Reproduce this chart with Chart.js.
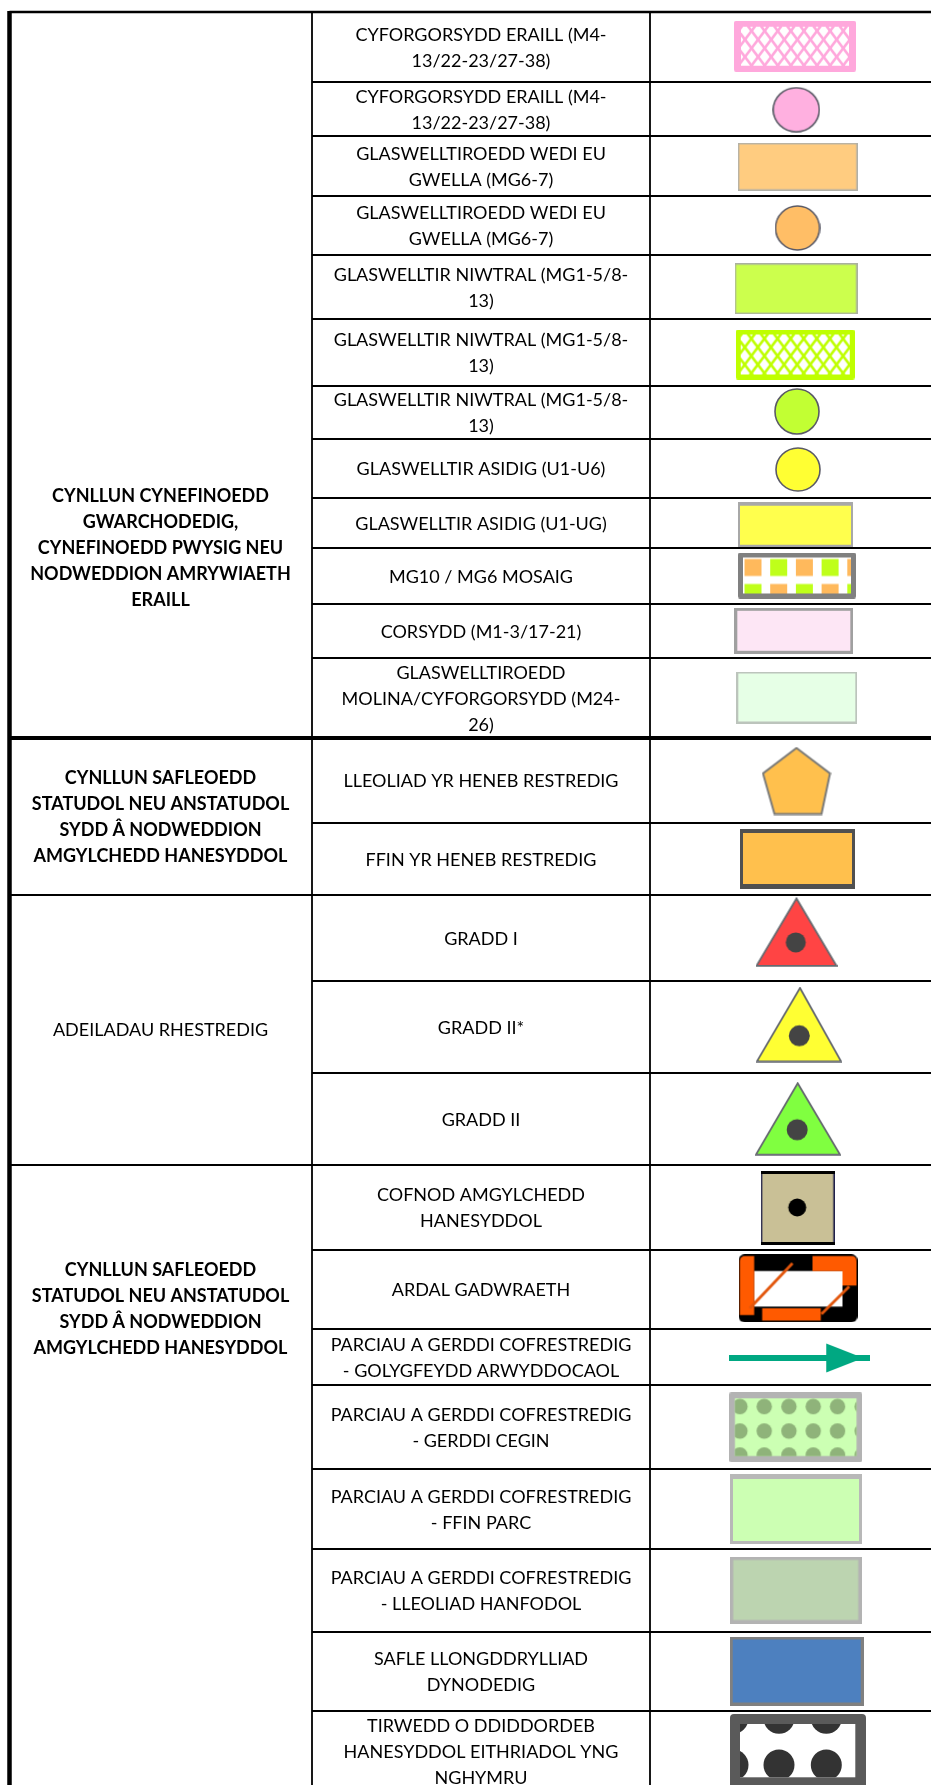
<!DOCTYPE html>
<html>
<head>
<meta charset="utf-8">
<style>html,body{margin:0;padding:0;background:#fff}canvas{display:block}</style>
<script src="https://cdn.jsdelivr.net/npm/chart.js@4"></script>
</head>
<body>
<canvas id="c" width="931" height="1785"></canvas>
<script>
// ---- table content ----
const groupLabels = [
  ["CYNLLUN CYNEFINOEDD","GWARCHODEDIG,","CYNEFINOEDD PWYSIG NEU","NODWEDDION AMRYWIAETH","ERAILL"],
  ["CYNLLUN SAFLEOEDD","STATUDOL NEU ANSTATUDOL","SYDD Â NODWEDDION","AMGYLCHEDD HANESYDDOL"],
  ["ADEILADAU RHESTREDIG"],
  ["CYNLLUN SAFLEOEDD","STATUDOL NEU ANSTATUDOL","SYDD Â NODWEDDION","AMGYLCHEDD HANESYDDOL"]
];
const groupBold = [true, true, false, true];
const groupLabelY = [547.7, 817, 1030, 1309];
const rowLabels = [
  ["CYFORGORSYDD ERAILL (M4-","13/22-23/27-38)"],
  ["CYFORGORSYDD ERAILL (M4-","13/22-23/27-38)"],
  ["GLASWELLTIROEDD WEDI EU","GWELLA (MG6-7)"],
  ["GLASWELLTIROEDD WEDI EU","GWELLA (MG6-7)"],
  ["GLASWELLTIR NIWTRAL (MG1-5/8-","13)"],
  ["GLASWELLTIR NIWTRAL (MG1-5/8-","13)"],
  ["GLASWELLTIR NIWTRAL (MG1-5/8-","13)"],
  ["GLASWELLTIR ASIDIG (U1-U6)"],
  ["GLASWELLTIR ASIDIG (U1-UG)"],
  ["MG10 / MG6 MOSAIG"],
  ["CORSYDD (M1-3/17-21)"],
  ["GLASWELLTIROEDD","MOLINA/CYFORGORSYDD (M24-","26)"],
  ["LLEOLIAD YR HENEB RESTREDIG"],
  ["FFIN YR HENEB RESTREDIG"],
  ["GRADD I"],
  ["GRADD II*"],
  ["GRADD II"],
  ["COFNOD AMGYLCHEDD","HANESYDDOL"],
  ["ARDAL GADWRAETH"],
  ["PARCIAU A GERDDI COFRESTREDIG","- GOLYGFEYDD ARWYDDOCAOL"],
  ["PARCIAU A GERDDI COFRESTREDIG","- GERDDI CEGIN"],
  ["PARCIAU A GERDDI COFRESTREDIG","- FFIN PARC"],
  ["PARCIAU A GERDDI COFRESTREDIG","- LLEOLIAD HANFODOL"],
  ["SAFLE LLONGDDRYLLIAD","DYNODEDIG"],
  ["TIRWEDD O DDIDDORDEB","HANESYDDOL EITHRIADOL YNG","NGHYMRU"]
];
// Row boundaries (last one runs past the page edge)
const rowEdges = [12,82,136,196,255,319,386,439,498,548,604,658,738,823,895,981,1073,1165,1250,1329,1385,1469,1549,1632,1711,1791];
const groupEdges = [738,895,1165];
const columnEdges = [312,650];
const tableLeft = 9.5;
// Swatch centres
const swatchX = [795,796.3,797.7,797.5,796,795.2,797,798,795.5,797,793.8,796.8,796.5,797.5,796.5,799,798,797.7,798,799.7,795.7,796,795.7,796.7,798];
const swatchY = [46.2,109.7,166.7,228,288.7,354.5,411.5,469.5,524.2,575.5,630.8,697.5,781,859,932,1024.5,1118.7,1208,1288.3,1358,1427.3,1509,1590,1671,1749.5];

// ---- swatch styles ----
function rectSw(w,h,fill,border,b,r){return {w,h,draw(c){
  const [t,rt,bt,l]=Array.isArray(b)?b:[b,b,b,b];
  c.fillStyle=border;rr(c,0,0,w,h,r||0);c.fill();
  c.fillStyle=fill;c.fillRect(l,t,w-l-rt,h-t-bt);
}};}
function rr(c,x,y,w,h,r){c.beginPath();c.roundRect(x,y,w,h,r);}
function circleSw(w,h,fill){return {w,h,draw(c){
  c.beginPath();c.ellipse(w/2,h/2,w/2-1,h/2-1,0,0,Math.PI*2);
  c.fillStyle=fill;c.fill();c.strokeStyle='#5a5a66';c.lineWidth=1.6;c.stroke();
}};}
function hatchSw(w,h,col,bx,by){return {w,h,draw(c){
  c.fillStyle=col;rr(c,0,0,w,h,2);c.fill();
  c.fillStyle='#fff';c.fillRect(bx,by,w-2*bx,h-2*by);
  c.save();c.beginPath();c.rect(bx,by,w-2*bx,h-2*by);c.clip();
  c.strokeStyle=col;c.lineWidth=2.6;
  const dx=13.1,dy=17.3,y0=by-4.5;
  for(let k=-14;k<26;k++){
    const x=bx+4+k*dx;
    c.beginPath();c.moveTo(x,y0);c.lineTo(x+(h+10)/dy*dx,y0+h+10);c.stroke();
    c.beginPath();c.moveTo(x,y0);c.lineTo(x-(h+10)/dy*dx,y0+h+10);c.stroke();
  }
  c.restore();
}};}
function triSw(w,h,fill,ax,dx,dy,dr){return {w,h,draw(c){
  c.beginPath();c.moveTo(ax,1.5);c.lineTo(w-1,h-1.2);c.lineTo(1,h-1.2);c.closePath();
  c.fillStyle=fill;c.fill();c.strokeStyle='#666a70';c.lineWidth=1.8;c.stroke();
  c.beginPath();c.ellipse(dx,dy,dr,dr,0,0,Math.PI*2);c.fillStyle='#444';c.fill();
}};}
const swatchStyles = [
  hatchSw(122,51,'#ffa8dc',7,6),
  circleSw(48,46,'#ffb0e0'),
  rectSw(120,48,'#ffcc80','#b0b0a8',1.5),
  circleSw(46,46,'#ffbe66'),
  rectSw(123,51,'#ccff4d','#aab0a0',1.5),
  hatchSw(119,50,'#bfff00',5,5),
  circleSw(46,47,'#c2ff33'),
  circleSw(46,45,'#ffff33'),
  rectSw(115,45,'#ffff4d','#a8a8a8',[4,2,2,2]),
  {w:118,h:46,draw(c){
    c.fillStyle='#808080';rr(c,0,0,118,46,2);c.fill();
    c.fillStyle='#fff';c.fillRect(5,5,108,36);
    c.save();c.beginPath();c.rect(5,5,108,36);c.clip();
    for(let i=0;i<5;i++){
      const x=6.5+i*25.7;
      c.fillStyle=i%2?'#bfff1a':'#ffb95c';c.fillRect(x,6.5,17,17);
      c.fillStyle=i%2?'#ffb95c':'#bfff1a';c.fillRect(x,31.5,17,11);
    }
    c.restore();
  }},
  rectSw(119,46,'#fde6f5','#a0a0a0',3),
  rectSw(121,52,'#e6ffe6','#bcc4bc',2),
  {w:70,h:69,draw(c){
    c.beginPath();c.moveTo(35,1.5);c.lineTo(68.5,27);c.lineTo(60,67.5);c.lineTo(13,67.5);c.lineTo(1.5,27);c.closePath();
    c.fillStyle='#ffc04d';c.fill();c.strokeStyle='#7a7a78';c.lineWidth=2;c.stroke();
  }},
  rectSw(115,60,'#ffc04d','#505050',[4,3,5,3]),
  triSw(82,70,'#ff4444',41,40.3,45.4,10),
  triSw(86,76,'#ffff33',44,43.3,49.3,10.5),
  triSw(86,74,'#80ff40',42.7,42.2,48,10.5),
  {w:74,h:74,draw(c){
    c.fillStyle='#20204a';c.fillRect(0,0,74,74);
    c.fillStyle='#000';c.fillRect(0,0,74,3);c.fillRect(0,71,74,3);
    c.fillStyle='#c9c096';c.fillRect(1.5,3,71,68);
    c.beginPath();c.ellipse(36.5,36.5,9,9,0,0,Math.PI*2);c.fillStyle='#000';c.fill();
  }},
  {w:119,h:68,draw(c){
    c.fillStyle='#000';rr(c,0,0,119,68,6);c.fill();
    c.fillStyle='#fff';c.fillRect(15.7,16.7,88.3,35.6);
    c.fillStyle='#ff5a00';
    rr(c,1.3,1.7,14.4,59,[5,0,0,0]);c.fill();
    c.beginPath();c.moveTo(74,1.7);c.lineTo(113,1.7);c.quadraticCurveTo(118,1.7,118,7);c.lineTo(118,31.3);c.lineTo(104,31.3);c.lineTo(104,16.7);c.lineTo(74,16.7);c.closePath();c.fill();
    c.fillRect(23.7,54,58.6,12.3);
    c.strokeStyle='#e2560c';c.lineWidth=2.8;
    c.beginPath();c.moveTo(11.3,54);c.lineTo(54,9);c.stroke();
    c.beginPath();c.moveTo(83,59.7);c.lineTo(110.7,32.3);c.stroke();
  }},
  {w:141,h:30,draw(c){
    c.fillStyle='#00a882';c.fillRect(0,12,141,6);
    c.beginPath();c.moveTo(97,0.5);c.lineTo(134,15);c.lineTo(97,29.5);c.closePath();c.fill();
  }},
  {w:133,h:70,draw(c){
    c.fillStyle='#b3b3b3';rr(c,0,0,133,70,2);c.fill();
    c.fillStyle='#ccffb3';c.fillRect(5.7,6,121.6,57.7);
    c.save();c.beginPath();c.rect(5.7,6,121.6,57.7);c.clip();
    c.fillStyle='#8fb37a';
    [14.3,38.7,62.7].forEach(y=>[10.7,35,59.7,84,108.3,133].forEach(x=>{
      c.beginPath();c.arc(x,y,7.7,0,Math.PI*2);c.fill();}));
    c.restore();
  }},
  rectSw(132,70,'#ccffb3','#b8b8b8',[5,3,3,3]),
  rectSw(132,67,'#bcd4b0','#b3b3b3',3.5),
  rectSw(134,69,'#4d80bf','#808080',3),
  {w:136,h:71,draw(c){
    c.fillStyle='#5a5a5a';rr(c,0,0,136,74,4);c.fill();
    c.fillStyle='#fff';c.fillRect(10,10,115.3,53.3);
    c.save();c.beginPath();c.rect(10,10,115.3,53.3);c.clip();
    c.fillStyle='#333';
    [4.3,51].forEach(y=>[3,49,96.3].forEach(x=>{
      c.beginPath();c.arc(x,y,15.5,0,Math.PI*2);c.fill();}));
    c.restore();
  }}
];
const swatchImages = swatchStyles.map(s=>{
  const cv=document.createElement('canvas');cv.width=s.w;cv.height=s.h;
  s.draw(cv.getContext('2d'));return cv;
});

// ---- rules ----
const ruleSets = [];
const rule=(pts,w)=>ruleSets.push({type:'scatter',showLine:true,data:pts,borderColor:'#000',borderWidth:w,pointRadius:0,borderCapStyle:'butt',clip:false,order:2});
rowEdges.slice(0,-1).forEach((e,i)=>{
  const isGroup=groupEdges.includes(e);
  const w = e===738?4:(i===0?2.5:2.2);
  const start = (isGroup||i===0)?tableLeft:columnEdges[0];
  rule([{x:start,y:e},{x:931,y:e}],w);
});
columnEdges.forEach(x=>rule([{x,y:12},{x,y:1785}],1.8));
rule([{x:tableLeft,y:11},{x:tableLeft,y:1785}],4.5);

// ---- text ----
const FONT='Lato';
const LINE=26;
const textPlugin={id:'tableText',afterDatasetsDraw(chart){
  const {ctx,scales:{x,y}}=chart;
  ctx.save();ctx.fillStyle='#000';ctx.textAlign='center';ctx.textBaseline='middle';
  const put=(lines,cx,cy,bold)=>{
    ctx.font=(bold?'bold ':'')+'18px '+FONT;
    lines.forEach((t,i)=>ctx.fillText(t,x.getPixelForValue(cx),y.getPixelForValue(cy+(i-(lines.length-1)/2)*LINE)));
  };
  groupLabels.forEach((l,i)=>put(l,160.5,groupLabelY[i],groupBold[i]));
  rowLabels.forEach((l,i)=>put(l,481,(rowEdges[i]+rowEdges[i+1])/2+1,false));
  ctx.restore();
}};

new Chart(document.getElementById('c'),{
  type:'scatter',
  data:{datasets:[
    ...ruleSets,
    {type:'scatter',label:'Swatches',data:swatchX.map((x,i)=>({x,y:swatchY[i]})),
     pointStyle:swatchImages,pointRadius:5,pointHoverRadius:5,showLine:false,clip:false,order:1}
  ]},
  options:{responsive:false,animation:false,events:[],
    layout:{padding:0,autoPadding:false},
    plugins:{legend:{display:false},tooltip:{enabled:false},title:{display:false}},
    scales:{
      x:{type:'linear',min:0,max:931,display:false},
      y:{type:'linear',min:0,max:1785,reverse:true,display:false}
    }
  },
  plugins:[textPlugin]
});
</script>
</body>
</html>
